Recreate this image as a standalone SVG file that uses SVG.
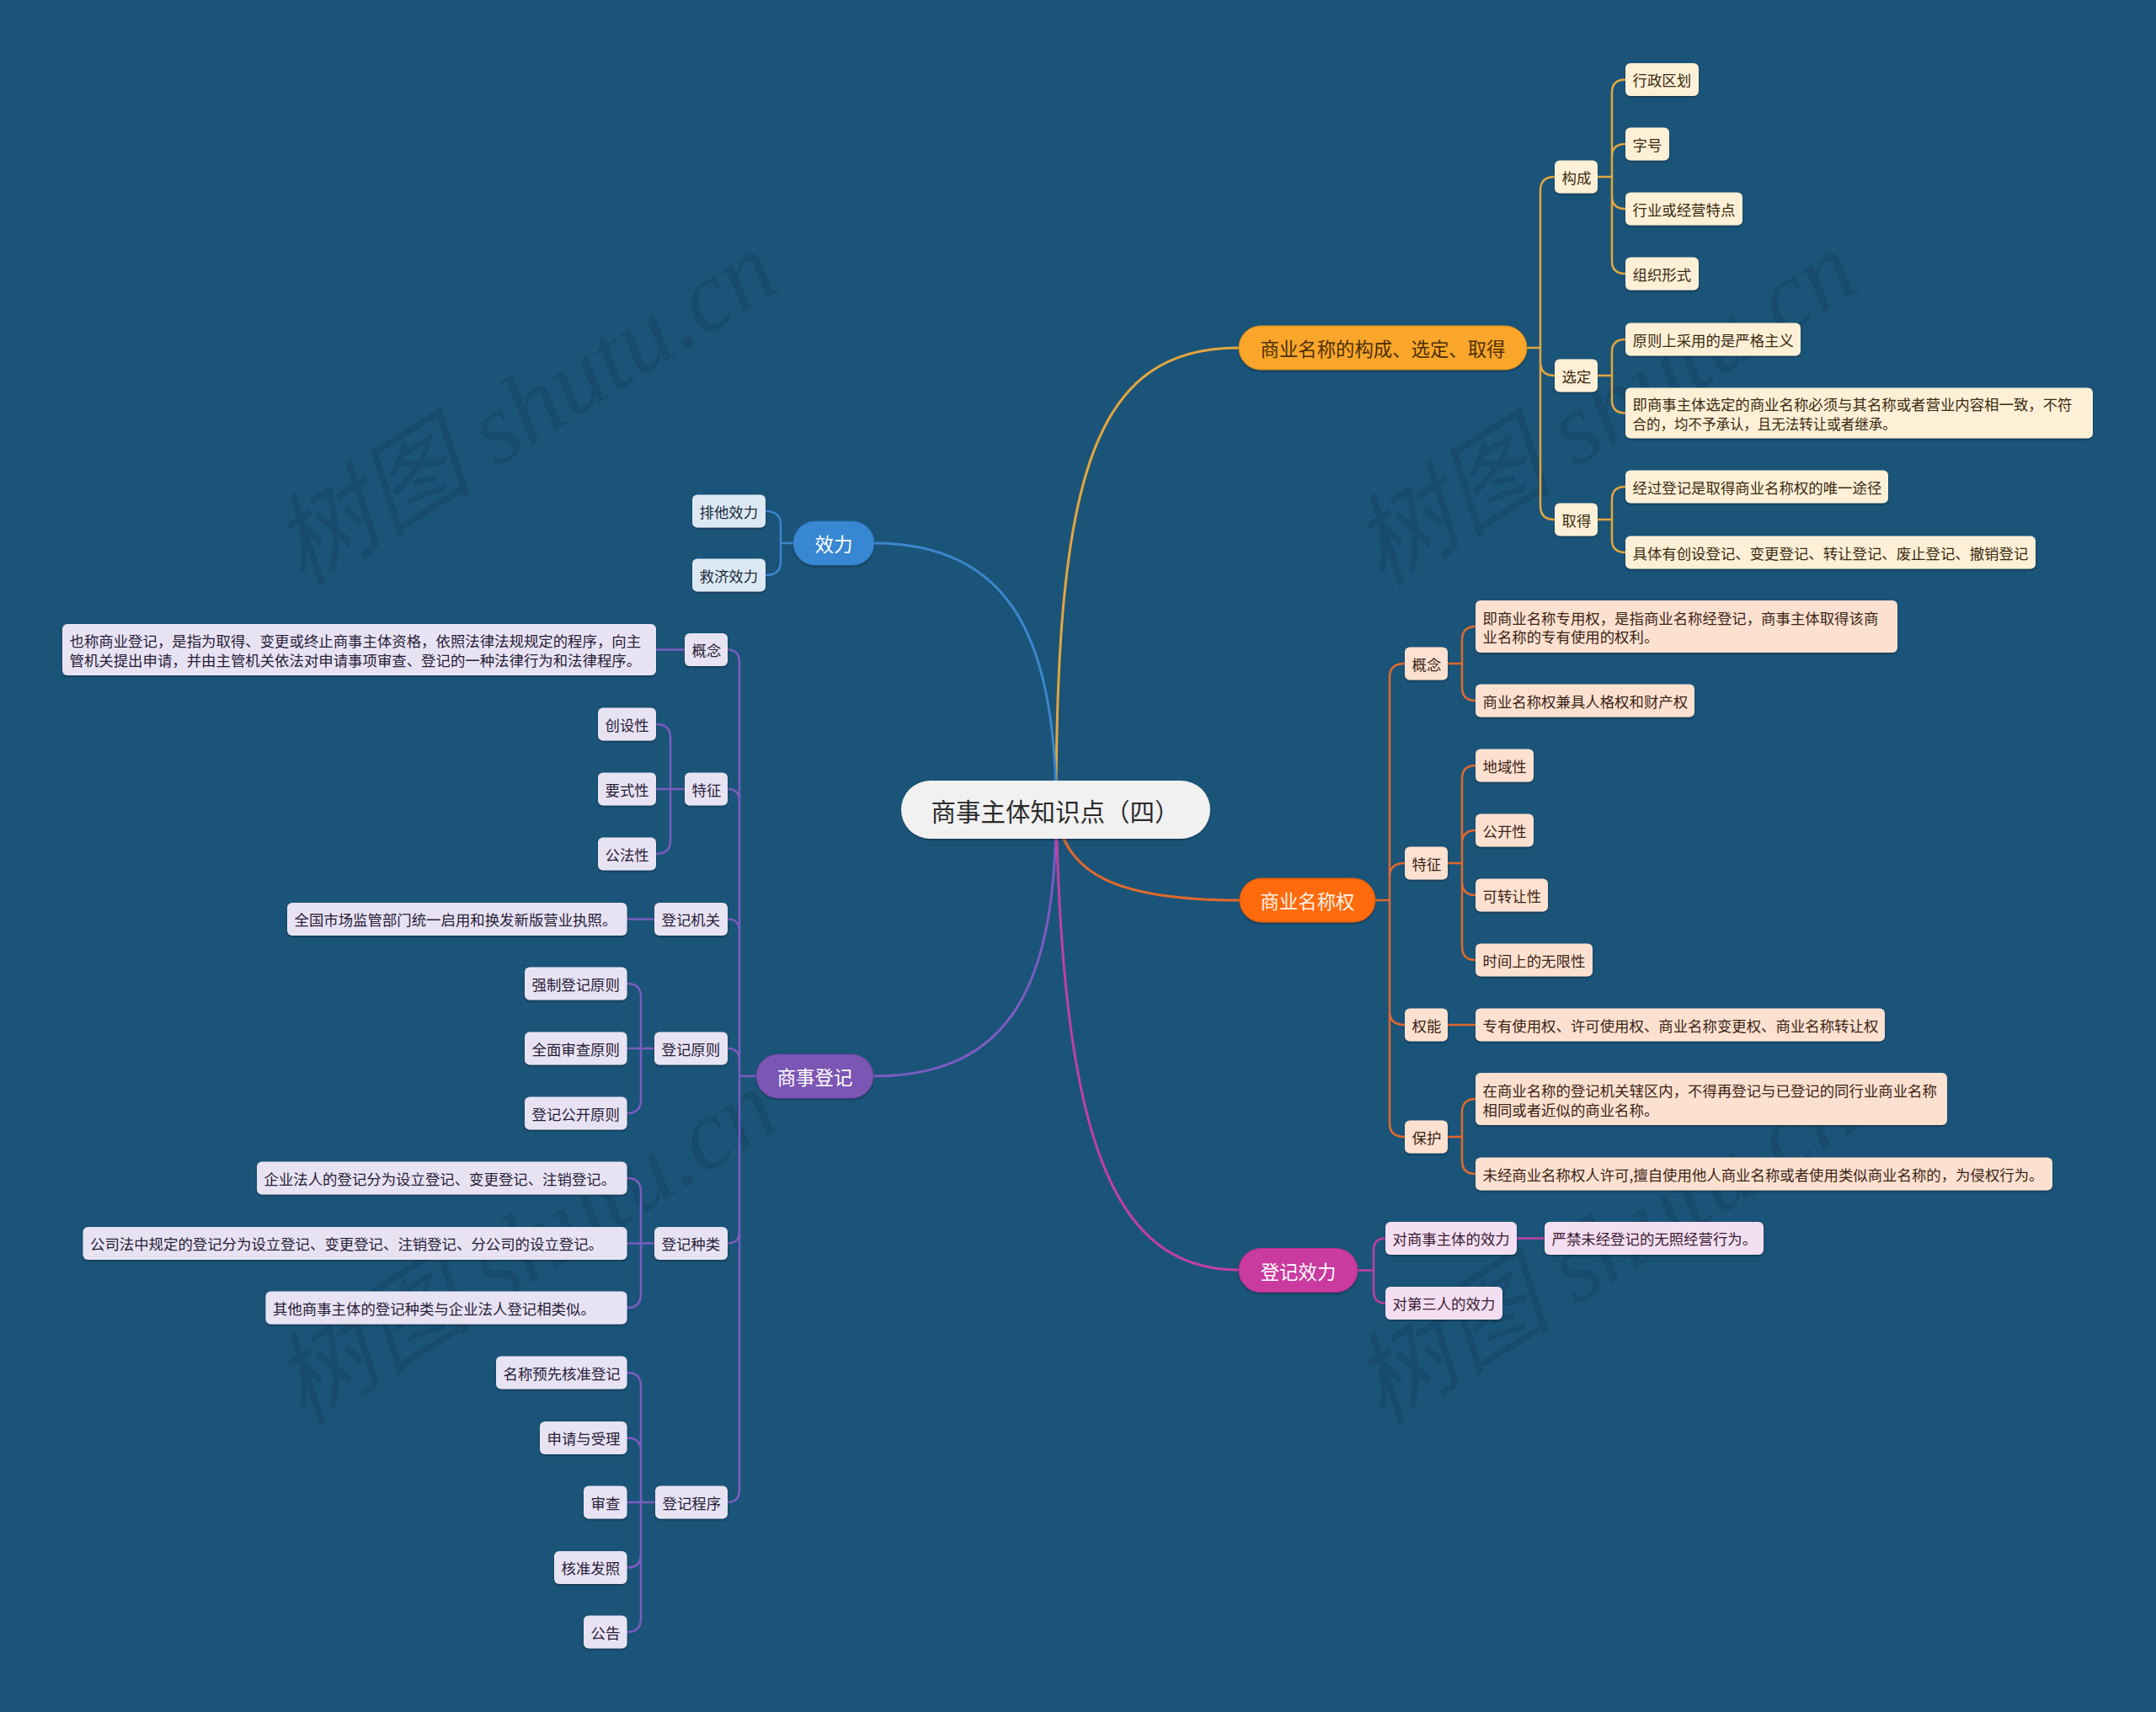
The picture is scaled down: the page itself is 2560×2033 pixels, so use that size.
<svg xmlns="http://www.w3.org/2000/svg" width="2560" height="2033" viewBox="0 0 2560 2033">
<defs>
<filter id="sh" x="-10%" y="-20%" width="120%" height="150%">
<feDropShadow dx="0" dy="1.5" stdDeviation="1" flood-color="#000" flood-opacity="0.35"/>
</filter>
<style>
text{font-family:"Noto Sans CJK SC","Noto Sans",sans-serif;dominant-baseline:central;}
.wm{font-family:"Liberation Serif","Noto Sans CJK SC",serif;font-size:120px;fill:#000;fill-opacity:0.09;font-style:italic;dominant-baseline:auto;}
.l0{fill:#f1f1f1;filter:url(#sh);}
.t0{font-size:29.5px;fill:#2b2b2b;text-anchor:middle;}
.t1{font-size:22.5px;text-anchor:middle;}
.t2{font-size:17.5px;}
rect{filter:url(#sh);}
.yM{fill:#f9a62b;stroke:#d98d1c;stroke-width:1;} .yT{fill:#4d2f05;}
.yL{fill:#fdf0d6;} .yLT{fill:#3a2a12;}
.oM{fill:#ff6a0d;stroke:#e0580a;stroke-width:1;} .oT{fill:#fff3e6;}
.oL{fill:#fde1d0;} .oLT{fill:#3b2417;}
.bM{fill:#3887d2;stroke:#2f76bb;stroke-width:1;} .wT{fill:#ffffff;}
.bL{fill:#dce9f5;} .bLT{fill:#1d2b3a;}
.vM{fill:#7b56b4;stroke:#6a479f;stroke-width:1;}
.vL{fill:#e8e3f3;} .vLT{fill:#272038;}
.mM{fill:#c93a9f;stroke:#b12f8b;stroke-width:1;}
.mL{fill:#f3dff1;} .mLT{fill:#3a1c34;}
.c{fill:none;stroke-width:2.5;stroke-linecap:round;}
.main{stroke-width:3;}
.cy{stroke:#e3a63f;} .co{stroke:#e0692e;} .cb{stroke:#3b86cb;} .cv{stroke:#7a5cc0;} .cm{stroke:#c040a4;}
</style>
</defs>
<rect x="0" y="0" width="2560" height="2033" fill="#1b5479" style="filter:none"/>
<g id="watermarks">
<text class="wm" transform="translate(645 520) rotate(-32)" text-anchor="middle">树图 shutu.cn</text>
<text class="wm" transform="translate(1927 520) rotate(-32)" text-anchor="middle">树图 shutu.cn</text>
<text class="wm" transform="translate(645 1515) rotate(-32)" text-anchor="middle">树图 shutu.cn</text>
<text class="wm" transform="translate(1927 1515) rotate(-32)" text-anchor="middle">树图 shutu.cn</text>
</g>
<g id="connectors">
<path class="c main cy" d="M1254 961 C1254 560 1300 413 1471 413"/>
<path class="c main cb" d="M1038 645 C1200 645 1254 760 1254 961"/>
<path class="c main co" d="M1254 961 C1262 1040 1330 1069 1472 1069"/>
<path class="c main cv" d="M1254 961 C1254 1170 1200 1278 1037 1278"/>
<path class="c main cm" d="M1254 961 C1262 1350 1320 1508 1471 1508"/>
<path class="c cy" d="M1813 413 H1829 V226 Q1829 210 1846 210 M1829 413 V430 Q1829 446 1846 446 M1829 413 V601 Q1829 617 1846 617"/>
<path class="c cy" d="M1897 210 H1914 V110 Q1914 94.5 1930 94.5 M1914 210 V186 Q1914 171 1930 171 M1914 210 V233 Q1914 248 1930 248 M1914 210 V310 Q1914 325 1930 325"/>
<path class="c cy" d="M1897 446 H1914 V418 Q1914 403 1930 403 M1914 446 V475 Q1914 490.5 1930 490.5"/>
<path class="c cy" d="M1897 617 H1914 V593 Q1914 578 1930 578 M1914 617 V641 Q1914 656 1930 656"/>
<path class="c co" d="M1633 1069 H1650 V804 Q1650 788 1668 788 M1650 1069 V1041 Q1650 1025 1668 1025 M1650 1069 V1201 Q1650 1217 1668 1217 M1650 1069 V1334 Q1650 1350 1668 1350"/>
<path class="c co" d="M1719 788 H1736 V760 Q1736 744 1752 744 M1736 788 V816 Q1736 832 1752 832"/>
<path class="c co" d="M1719 1025 H1736 V925 Q1736 909 1752 909 M1736 1025 V1002 Q1736 986 1752 986 M1736 1025 V1047 Q1736 1063 1752 1063 M1736 1025 V1124 Q1736 1140 1752 1140"/>
<path class="c co" d="M1719 1217 H1752"/>
<path class="c co" d="M1719 1350 H1736 V1321 Q1736 1305 1752 1305 M1736 1350 V1378 Q1736 1394 1752 1394"/>
<path class="c cm" d="M1612 1508.5 H1631 V1485 Q1631 1470.5 1645 1470.5 M1631 1508.5 V1533 Q1631 1547.5 1645 1547.5"/>
<path class="c cm" d="M1801 1470.5 H1834"/>
<path class="c cb" d="M942 645 H927 V623 Q927 607 909 607 M927 645 V667 Q927 683 909 683"/>
<path class="c cv" d="M898 1278 H878 V787 Q878 771.5 864 771.5 M878 1278 V952 Q878 937 864 937 M878 1278 V1106 Q878 1091.5 864 1091.5 M878 1278 V1260 Q878 1245 864 1245 M878 1278 V1462 Q878 1476.5 864 1476.5 M878 1278 V1769 Q878 1784 864 1784"/>
<path class="c cv" d="M813 771.5 H779"/>
<path class="c cv" d="M813 937 H796 V876 Q796 860 779 860 M796 937 H779 M796 937 V998 Q796 1014 779 1014"/>
<path class="c cv" d="M777 1091.5 H744.5"/>
<path class="c cv" d="M777 1245 H761 V1184 Q761 1168 744.5 1168 M761 1245 H744.5 M761 1245 V1306 Q761 1322 744.5 1322"/>
<path class="c cv" d="M777 1476.5 H761 V1415 Q761 1399 744.5 1399 M761 1476.5 H744.5 M761 1476.5 V1537 Q761 1553 744.5 1553"/>
<path class="c cv" d="M778 1784 H761 V1646 Q761 1630 744.5 1630 M761 1784 V1723 Q761 1707.5 744.5 1707.5 M761 1784 H744.5 M761 1784 V1846 Q761 1861.5 744.5 1861.5 M761 1784 V1922 Q761 1938 744.5 1938"/>
</g>
<g id="center"><rect class="l0" x="1070" y="927" width="367" height="69" rx="34.5"/><text class="t0" x="1253" y="961.5" textLength="295" lengthAdjust="spacingAndGlyphs">商事主体知识点（四）</text></g>

<g id="n-goucheng-main"><rect class="yM" x="1471" y="387" width="342" height="52" rx="26"/><text class="t1 yT" x="1642" y="413" textLength="291" lengthAdjust="spacingAndGlyphs">商业名称的构成、选定、取得</text></g>
<g id="n-gc"><rect class="yL" x="1846" y="190.5" width="51" height="39" rx="6"/><text class="t2 yLT" x="1854.5" y="210" textLength="34.8" lengthAdjust="spacingAndGlyphs">构成</text></g>
<g id="n-xd"><rect class="yL" x="1846" y="426.5" width="51" height="39" rx="6"/><text class="t2 yLT" x="1854.5" y="446" textLength="34.8" lengthAdjust="spacingAndGlyphs">选定</text></g>
<g id="n-qd"><rect class="yL" x="1846" y="597.5" width="51" height="39" rx="6"/><text class="t2 yLT" x="1854.5" y="617" textLength="34.8" lengthAdjust="spacingAndGlyphs">取得</text></g>
<g id="n-xzqh"><rect class="yL" x="1930" y="75" width="87" height="39" rx="6"/><text class="t2 yLT" x="1938.5" y="94.5" textLength="69.6" lengthAdjust="spacingAndGlyphs">行政区划</text></g>
<g id="n-zh"><rect class="yL" x="1930" y="151.5" width="52" height="39" rx="6"/><text class="t2 yLT" x="1938.5" y="171" textLength="34.8" lengthAdjust="spacingAndGlyphs">字号</text></g>
<g id="n-hy"><rect class="yL" x="1930" y="228.5" width="139" height="39" rx="6"/><text class="t2 yLT" x="1938.5" y="248" textLength="121.8" lengthAdjust="spacingAndGlyphs">行业或经营特点</text></g>
<g id="n-zzxs"><rect class="yL" x="1930" y="305.5" width="87" height="39" rx="6"/><text class="t2 yLT" x="1938.5" y="325" textLength="69.6" lengthAdjust="spacingAndGlyphs">组织形式</text></g>
<g id="n-yz"><rect class="yL" x="1930" y="383.5" width="208" height="39" rx="6"/><text class="t2 yLT" x="1938.5" y="403" textLength="191.4" lengthAdjust="spacingAndGlyphs">原则上采用的是严格主义</text></g>
<g id="n-jsz"><rect class="yL" x="1930" y="460.5" width="555" height="60" rx="6"/><text class="t2 yLT" x="1938.5" y="479.5" textLength="522" lengthAdjust="spacingAndGlyphs">即商事主体选定的商业名称必须与其名称或者营业内容相一致，不符</text><text class="t2 yLT" x="1938.5" y="502" textLength="313.2" lengthAdjust="spacingAndGlyphs">合的，均不予承认，且无法转让或者继承。</text></g>
<g id="n-jg"><rect class="yL" x="1930" y="558.5" width="312" height="39" rx="6"/><text class="t2 yLT" x="1938.5" y="578" textLength="295.8" lengthAdjust="spacingAndGlyphs">经过登记是取得商业名称权的唯一途径</text></g>
<g id="n-jt"><rect class="yL" x="1930" y="636.5" width="487" height="39" rx="6"/><text class="t2 yLT" x="1938.5" y="656" textLength="469.8" lengthAdjust="spacingAndGlyphs">具体有创设登记、变更登记、转让登记、废止登记、撤销登记</text></g>

<g id="n-mcq-main"><rect class="oM" x="1472" y="1043" width="161" height="52" rx="26"/><text class="t1 oT" x="1552.5" y="1069" textLength="112" lengthAdjust="spacingAndGlyphs">商业名称权</text></g>
<g id="n-o-gn"><rect class="oL" x="1668" y="768.5" width="51" height="39" rx="6"/><text class="t2 oLT" x="1676.5" y="788" textLength="34.8" lengthAdjust="spacingAndGlyphs">概念</text></g>
<g id="n-o-tz"><rect class="oL" x="1668" y="1005.5" width="51" height="39" rx="6"/><text class="t2 oLT" x="1676.5" y="1025" textLength="34.8" lengthAdjust="spacingAndGlyphs">特征</text></g>
<g id="n-o-qn"><rect class="oL" x="1668" y="1197.5" width="51" height="39" rx="6"/><text class="t2 oLT" x="1676.5" y="1217" textLength="34.8" lengthAdjust="spacingAndGlyphs">权能</text></g>
<g id="n-o-bh"><rect class="oL" x="1668" y="1330.5" width="51" height="39" rx="6"/><text class="t2 oLT" x="1676.5" y="1350" textLength="34.8" lengthAdjust="spacingAndGlyphs">保护</text></g>
<g id="n-o-jsy"><rect class="oL" x="1752" y="713" width="501" height="62" rx="6"/><text class="t2 oLT" x="1760.5" y="733" textLength="469.8" lengthAdjust="spacingAndGlyphs">即商业名称专用权，是指商业名称经登记，商事主体取得该商</text><text class="t2 oLT" x="1760.5" y="755.5" textLength="208.8" lengthAdjust="spacingAndGlyphs">业名称的专有使用的权利。</text></g>
<g id="n-o-jj"><rect class="oL" x="1752" y="812.5" width="260" height="39" rx="6"/><text class="t2 oLT" x="1760.5" y="832" textLength="243.6" lengthAdjust="spacingAndGlyphs">商业名称权兼具人格权和财产权</text></g>
<g id="n-o-dy"><rect class="oL" x="1752" y="889.5" width="69" height="39" rx="6"/><text class="t2 oLT" x="1760.5" y="909" textLength="52.2" lengthAdjust="spacingAndGlyphs">地域性</text></g>
<g id="n-o-gk"><rect class="oL" x="1752" y="966.5" width="69" height="39" rx="6"/><text class="t2 oLT" x="1760.5" y="986" textLength="52.2" lengthAdjust="spacingAndGlyphs">公开性</text></g>
<g id="n-o-kz"><rect class="oL" x="1752" y="1043.5" width="86" height="39" rx="6"/><text class="t2 oLT" x="1760.5" y="1063" textLength="69.6" lengthAdjust="spacingAndGlyphs">可转让性</text></g>
<g id="n-o-sj"><rect class="oL" x="1752" y="1120.5" width="139" height="39" rx="6"/><text class="t2 oLT" x="1760.5" y="1140" textLength="121.8" lengthAdjust="spacingAndGlyphs">时间上的无限性</text></g>
<g id="n-o-zy"><rect class="oL" x="1752" y="1197.5" width="486" height="39" rx="6"/><text class="t2 oLT" x="1760.5" y="1217" textLength="469.8" lengthAdjust="spacingAndGlyphs">专有使用权、许可使用权、商业名称变更权、商业名称转让权</text></g>
<g id="n-o-zs"><rect class="oL" x="1752" y="1274" width="560" height="62" rx="6"/><text class="t2 oLT" x="1760.5" y="1294.5" textLength="539.4" lengthAdjust="spacingAndGlyphs">在商业名称的登记机关辖区内，不得再登记与已登记的同行业商业名称</text><text class="t2 oLT" x="1760.5" y="1317" textLength="208.8" lengthAdjust="spacingAndGlyphs">相同或者近似的商业名称。</text></g>
<g id="n-o-wj"><rect class="oL" x="1752" y="1374.5" width="685" height="39" rx="6"/><text class="t2 oLT" x="1760.5" y="1394" textLength="666" lengthAdjust="spacingAndGlyphs">未经商业名称权人许可,擅自使用他人商业名称或者使用类似商业名称的，为侵权行为。</text></g>

<g id="n-djxl-main"><rect class="mM" x="1471" y="1482.5" width="141" height="52" rx="26"/><text class="t1 wT" x="1541.5" y="1508.5" textLength="89.6" lengthAdjust="spacingAndGlyphs">登记效力</text></g>
<g id="n-m-dss"><rect class="mL" x="1645" y="1451" width="156" height="39" rx="6"/><text class="t2 mLT" x="1653.5" y="1470.5" textLength="139.2" lengthAdjust="spacingAndGlyphs">对商事主体的效力</text></g>
<g id="n-m-yj"><rect class="mL" x="1834" y="1451" width="260" height="39" rx="6"/><text class="t2 mLT" x="1842.5" y="1470.5" textLength="243.6" lengthAdjust="spacingAndGlyphs">严禁未经登记的无照经营行为。</text></g>
<g id="n-m-dsr"><rect class="mL" x="1645" y="1528" width="139" height="39" rx="6"/><text class="t2 mLT" x="1653.5" y="1547.5" textLength="121.8" lengthAdjust="spacingAndGlyphs">对第三人的效力</text></g>

<g id="n-xl-main"><rect class="bM" x="942" y="619" width="96" height="52" rx="26"/><text class="t1 wT" x="990" y="645" textLength="45" lengthAdjust="spacingAndGlyphs">效力</text></g>
<g id="n-b-pt"><rect class="bL" x="822" y="587.5" width="87" height="39" rx="6"/><text class="t2 bLT" x="830.5" y="607" textLength="69.6" lengthAdjust="spacingAndGlyphs">排他效力</text></g>
<g id="n-b-jj"><rect class="bL" x="822" y="663.5" width="87" height="39" rx="6"/><text class="t2 bLT" x="830.5" y="683" textLength="69.6" lengthAdjust="spacingAndGlyphs">救济效力</text></g>

<g id="n-ssdj-main"><rect class="vM" x="898" y="1252" width="139" height="52" rx="26"/><text class="t1 wT" x="967.5" y="1278" textLength="89.6" lengthAdjust="spacingAndGlyphs">商事登记</text></g>
<g id="n-v-gn"><rect class="vL" x="813" y="752" width="51" height="39" rx="6"/><text class="t2 vLT" x="821.5" y="771.5" textLength="34.8" lengthAdjust="spacingAndGlyphs">概念</text></g>
<g id="n-v-ys"><rect class="vL" x="74" y="741" width="705" height="61" rx="6"/><text class="t2 vLT" x="82.5" y="760.5" textLength="678.6" lengthAdjust="spacingAndGlyphs">也称商业登记，是指为取得、变更或终止商事主体资格，依照法律法规规定的程序，向主</text><text class="t2 vLT" x="82.5" y="783" textLength="678.6" lengthAdjust="spacingAndGlyphs">管机关提出申请，并由主管机关依法对申请事项审查、登记的一种法律行为和法律程序。</text></g>
<g id="n-v-tz"><rect class="vL" x="813" y="917.5" width="51" height="39" rx="6"/><text class="t2 vLT" x="821.5" y="937" textLength="34.8" lengthAdjust="spacingAndGlyphs">特征</text></g>
<g id="n-v-cs"><rect class="vL" x="710" y="840.5" width="69" height="39" rx="6"/><text class="t2 vLT" x="718.5" y="860" textLength="52.2" lengthAdjust="spacingAndGlyphs">创设性</text></g>
<g id="n-v-ysx"><rect class="vL" x="710" y="917.5" width="69" height="39" rx="6"/><text class="t2 vLT" x="718.5" y="937" textLength="52.2" lengthAdjust="spacingAndGlyphs">要式性</text></g>
<g id="n-v-gf"><rect class="vL" x="710" y="994.5" width="69" height="39" rx="6"/><text class="t2 vLT" x="718.5" y="1014" textLength="52.2" lengthAdjust="spacingAndGlyphs">公法性</text></g>
<g id="n-v-djjg"><rect class="vL" x="777" y="1072" width="87" height="39" rx="6"/><text class="t2 vLT" x="785.5" y="1091.5" textLength="69.6" lengthAdjust="spacingAndGlyphs">登记机关</text></g>
<g id="n-v-qg"><rect class="vL" x="341" y="1072" width="403.5" height="39" rx="6"/><text class="t2 vLT" x="349.5" y="1091.5" textLength="382.8" lengthAdjust="spacingAndGlyphs">全国市场监管部门统一启用和换发新版营业执照。</text></g>
<g id="n-v-djyz"><rect class="vL" x="777" y="1225.5" width="87" height="39" rx="6"/><text class="t2 vLT" x="785.5" y="1245" textLength="69.6" lengthAdjust="spacingAndGlyphs">登记原则</text></g>
<g id="n-v-qz"><rect class="vL" x="623" y="1148.5" width="121.5" height="39" rx="6"/><text class="t2 vLT" x="631.5" y="1168" textLength="104.4" lengthAdjust="spacingAndGlyphs">强制登记原则</text></g>
<g id="n-v-qm"><rect class="vL" x="623" y="1225.5" width="121.5" height="39" rx="6"/><text class="t2 vLT" x="631.5" y="1245" textLength="104.4" lengthAdjust="spacingAndGlyphs">全面审查原则</text></g>
<g id="n-v-gkyz"><rect class="vL" x="623" y="1302.5" width="121.5" height="39" rx="6"/><text class="t2 vLT" x="631.5" y="1322" textLength="104.4" lengthAdjust="spacingAndGlyphs">登记公开原则</text></g>
<g id="n-v-djzl"><rect class="vL" x="777" y="1457" width="87" height="39" rx="6"/><text class="t2 vLT" x="785.5" y="1476.5" textLength="69.6" lengthAdjust="spacingAndGlyphs">登记种类</text></g>
<g id="n-v-qy"><rect class="vL" x="305" y="1379.5" width="439.5" height="39" rx="6"/><text class="t2 vLT" x="313.5" y="1399" textLength="417.6" lengthAdjust="spacingAndGlyphs">企业法人的登记分为设立登记、变更登记、注销登记。</text></g>
<g id="n-v-gs"><rect class="vL" x="98.5" y="1457" width="646" height="39" rx="6"/><text class="t2 vLT" x="107" y="1476.5" textLength="609" lengthAdjust="spacingAndGlyphs">公司法中规定的登记分为设立登记、变更登记、注销登记、分公司的设立登记。</text></g>
<g id="n-v-qt"><rect class="vL" x="315.5" y="1533.5" width="429" height="39" rx="6"/><text class="t2 vLT" x="324" y="1553" textLength="382.8" lengthAdjust="spacingAndGlyphs">其他商事主体的登记种类与企业法人登记相类似。</text></g>
<g id="n-v-djcx"><rect class="vL" x="778" y="1764.5" width="86" height="39" rx="6"/><text class="t2 vLT" x="786.5" y="1784" textLength="69.6" lengthAdjust="spacingAndGlyphs">登记程序</text></g>
<g id="n-v-mc"><rect class="vL" x="589" y="1610.5" width="155.5" height="39" rx="6"/><text class="t2 vLT" x="597.5" y="1630" textLength="139.2" lengthAdjust="spacingAndGlyphs">名称预先核准登记</text></g>
<g id="n-v-sq"><rect class="vL" x="641" y="1688" width="103.5" height="39" rx="6"/><text class="t2 vLT" x="649.5" y="1707.5" textLength="87" lengthAdjust="spacingAndGlyphs">申请与受理</text></g>
<g id="n-v-sc"><rect class="vL" x="693" y="1764.5" width="51.5" height="39" rx="6"/><text class="t2 vLT" x="701.5" y="1784" textLength="34.8" lengthAdjust="spacingAndGlyphs">审查</text></g>
<g id="n-v-hz"><rect class="vL" x="658" y="1842" width="86.5" height="39" rx="6"/><text class="t2 vLT" x="666.5" y="1861.5" textLength="69.6" lengthAdjust="spacingAndGlyphs">核准发照</text></g>
<g id="n-v-gg"><rect class="vL" x="693" y="1918.5" width="51.5" height="39" rx="6"/><text class="t2 vLT" x="701.5" y="1938" textLength="34.8" lengthAdjust="spacingAndGlyphs">公告</text></g>
</svg>
